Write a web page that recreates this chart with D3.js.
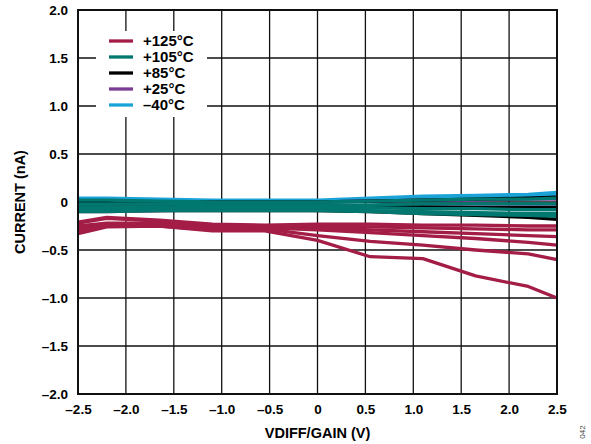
<!DOCTYPE html>
<html>
<head>
<meta charset="utf-8">
<script src="https://cdn.jsdelivr.net/npm/d3@7"></script>
<style>
  body { margin: 0; background: #fff; }
  svg { font-family: "Liberation Sans", Arial, sans-serif; }
</style>
</head>
<body>
<svg id="chart"></svg>
<script>
// sweep points (V)
var vdiff = [-2.5, -2.2, -1.65, -1.1, -0.55, 0, 0.55, 1.1, 1.65, 2.2, 2.5];

// current (nA), several parts per temperature
var t125 = [
  [-0.33, -0.26, -0.25, -0.30, -0.30, -0.40, -0.57, -0.59, -0.77, -0.88, -1.00],
  [-0.30, -0.25, -0.25, -0.29, -0.28, -0.35, -0.41, -0.45, -0.50, -0.54, -0.60],
  [-0.28, -0.24, -0.24, -0.28, -0.27, -0.29, -0.32, -0.35, -0.38, -0.42, -0.45],
  [-0.25, -0.22, -0.22, -0.26, -0.26, -0.27, -0.29, -0.31, -0.33, -0.35, -0.36],
  [-0.22, -0.17, -0.20, -0.24, -0.25, -0.25, -0.26, -0.27, -0.28, -0.29, -0.29],
  [-0.21, -0.16, -0.19, -0.23, -0.24, -0.23, -0.23, -0.24, -0.24, -0.25, -0.25]
];
var t105 = [
  [0.02, 0.02, 0.01, 0.00, 0.00, 0.00, 0.01, 0.02, 0.03, 0.03, 0.04],
  [-0.02, -0.02, -0.02, -0.03, -0.03, -0.03, -0.03, -0.02, -0.02, -0.02, -0.02],
  [-0.05, -0.05, -0.05, -0.06, -0.06, -0.06, -0.06, -0.07, -0.07, -0.08, -0.08],
  [-0.08, -0.08, -0.08, -0.08, -0.08, -0.08, -0.09, -0.10, -0.11, -0.12, -0.12],
  [-0.10, -0.10, -0.09, -0.09, -0.09, -0.09, -0.10, -0.12, -0.13, -0.14, -0.15]
];
var t85 = [
  [-0.09, -0.09, -0.09, -0.09, -0.09, -0.09, -0.10, -0.12, -0.14, -0.16, -0.18],
  [0.00, 0.00, 0.00, 0.00, 0.00, 0.00, 0.01, 0.02, 0.03, 0.04, 0.05],
  [-0.05, -0.05, -0.05, -0.05, -0.05, -0.05, -0.05, -0.05, -0.06, -0.06, -0.06]
];
var t25 = [
  [-0.10, -0.10, -0.09, -0.08, -0.07, -0.05, -0.05, -0.05, -0.05, -0.05, -0.05],
  [0.00, 0.00, 0.00, 0.00, 0.00, 0.00, 0.01, 0.02, 0.02, 0.03, 0.03]
];
var tm40 = [
  [0.04, 0.04, 0.03, 0.02, 0.02, 0.02, 0.04, 0.06, 0.07, 0.08, 0.10],
  [0.03, 0.03, 0.02, 0.01, 0.01, 0.01, 0.03, 0.04, 0.05, 0.06, 0.07]
];

var legendLabels = ["+125°C", "+105°C", "+85°C", "+25°C", "\u201340°C"];
var colors = ["#a31d47", "#007870", "#000000", "#7a3d96", "#1ba3d8"];
var xTicks = [-2.5, -2.0, -1.5, -1.0, -0.5, 0, 0.5, 1.0, 1.5, 2.0, 2.5];
var yTicks = [-2.0, -1.5, -1.0, -0.5, 0, 0.5, 1.0, 1.5, 2.0];

var width = 591, height = 444;
var margin = {top: 10, right: 34, bottom: 50, left: 78};

var svg = d3.select("#chart")
    .attr("width", width)
    .attr("height", height);

var x = d3.scaleLinear().domain([-2.5, 2.5]).range([margin.left, width - margin.right]);
var y = d3.scaleLinear().domain([-2, 2]).range([height - margin.bottom, margin.top]);

function fmt(d) {
  if (d === 0) return "0";
  return (d < 0 ? "\u2013" : "") + d3.format(".1f")(Math.abs(d));
}

// grid
var grid = svg.append("g");
grid.selectAll("line.v")
    .data(xTicks)
  .enter().append("line")
    .attr("x1", function(d) { return x(d); })
    .attr("x2", function(d) { return x(d); })
    .attr("y1", y(2)).attr("y2", y(-2))
    .attr("stroke", "#111").attr("stroke-width", 1.3);
grid.selectAll("line.h")
    .data(yTicks)
  .enter().append("line")
    .attr("y1", function(d) { return y(d); })
    .attr("y2", function(d) { return y(d); })
    .attr("x1", x(-2.5)).attr("x2", x(2.5))
    .attr("stroke", "#111").attr("stroke-width", 1.3);

// series, coldest drawn first
var line = d3.line()
    .x(function(d, i) { return x(vdiff[i]); })
    .y(function(d) { return y(d); });

var groups = [
  {curves: tm40, color: colors[4]},
  {curves: t25, color: colors[3]},
  {curves: t85, color: colors[2]},
  {curves: t105, color: colors[1]},
  {curves: t125, color: colors[0]}
];
groups.forEach(function(g) {
  svg.append("g").selectAll("path")
      .data(g.curves)
    .enter().append("path")
      .attr("d", line)
      .attr("fill", "none")
      .attr("stroke", g.color)
      .attr("stroke-width", 3.3)
      .attr("stroke-linejoin", "round");
});

// frame
svg.append("rect")
    .attr("x", x(-2.5)).attr("y", y(2))
    .attr("width", x(2.5) - x(-2.5)).attr("height", y(-2) - y(2))
    .attr("fill", "none").attr("stroke", "#111").attr("stroke-width", 2);

// axes labels
var xAxis = d3.axisBottom(x).tickValues(xTicks).tickFormat(fmt).tickSize(0).tickPadding(10);
var gx = svg.append("g").attr("transform", "translate(0," + y(-2) + ")").call(xAxis);
gx.select(".domain").remove();
gx.selectAll("text").attr("font-size", 13.5).attr("font-weight", "bold").attr("fill", "#000")
    .attr("font-family", "Liberation Sans, Arial, sans-serif");

var yAxis = d3.axisLeft(y).tickValues(yTicks).tickFormat(fmt).tickSize(0).tickPadding(10);
var gy = svg.append("g").attr("transform", "translate(" + x(-2.5) + ",0)").call(yAxis);
gy.select(".domain").remove();
gy.selectAll("text").attr("font-size", 13.5).attr("font-weight", "bold").attr("fill", "#000")
    .attr("font-family", "Liberation Sans, Arial, sans-serif");

svg.append("text")
    .attr("x", (x(-2.5) + x(2.5)) / 2).attr("y", 438)
    .attr("text-anchor", "middle")
    .attr("font-size", 14.5).attr("font-weight", "bold")
    .text("VDIFF/GAIN (V)");

svg.append("text")
    .attr("transform", "translate(25," + y(0) + ")rotate(-90)")
    .attr("text-anchor", "middle")
    .attr("font-size", 14.5).attr("font-weight", "bold")
    .text("CURRENT (nA)");

svg.append("text")
    .attr("transform", "translate(585,432)rotate(-90)")
    .attr("text-anchor", "middle")
    .attr("font-size", 8).attr("fill", "#444")
    .text("042");

// legend
var legend = svg.append("g");
legend.append("rect")
    .attr("x", 96).attr("y", 31).attr("width", 111).attr("height", 86)
    .attr("fill", "#fff");
var items = legend.selectAll("g.item")
    .data(legendLabels)
  .enter().append("g")
    .attr("transform", function(d, i) { return "translate(109," + (41 + i * 16) + ")"; });
items.append("line")
    .attr("x1", 0).attr("x2", 24)
    .attr("stroke", function(d, i) { return colors[i]; })
    .attr("stroke-width", 3.3);
items.append("text")
    .attr("x", 34).attr("dy", "0.36em")
    .attr("font-size", 15).attr("font-weight", "bold")
    .text(function(d) { return d; });
</script>
</body>
</html>
